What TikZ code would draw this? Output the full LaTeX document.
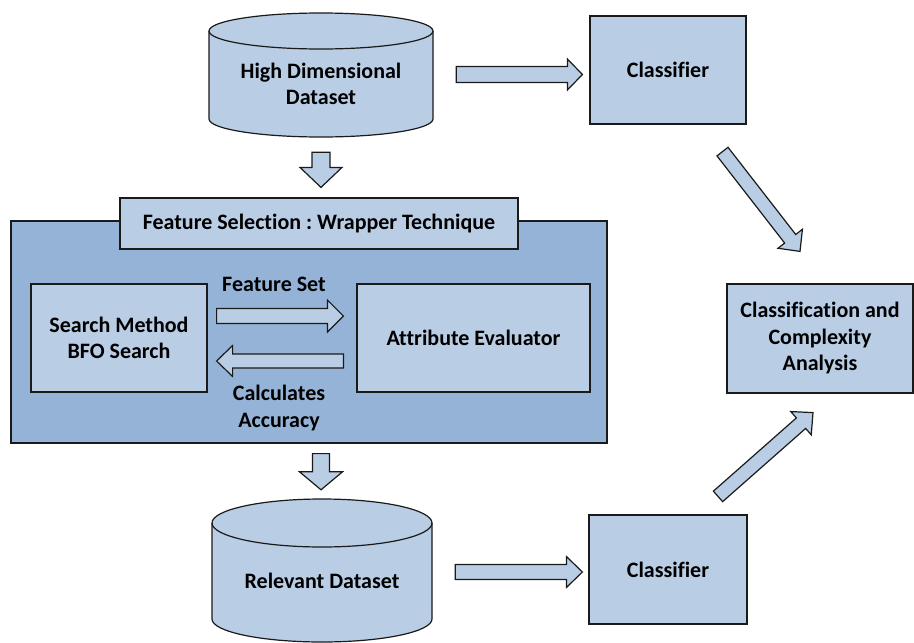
\documentclass[tikz,border=0pt]{standalone}
\usepackage{fontspec}
\setmainfont[Ligatures=NoCommon]{Carlito}
\usetikzlibrary{calc}
\definecolor{lightfill}{HTML}{B9CDE5}
\definecolor{darkfill}{HTML}{95B3D7}
\definecolor{edge}{HTML}{1A1A1A}
\tikzset{
  boxnode/.style={draw=edge, line width=1.2pt, fill=lightfill, inner sep=0pt, align=center,
    font=\fontsize{22}{26.5}\selectfont\bfseries},
  txt/.style={inner sep=0pt, align=center, font=\fontsize{22}{26.5}\selectfont\bfseries},
  barrowstyle/.style={draw=edge, line width=1.2pt, fill=lightfill, line join=miter},
}
% #1 start, #2 end, #3 shaft half width, #4 head half width, #5 head length
\newcommand\blockarrow[5]{%
  \coordinate (bH) at ($(#2)!#5!(#1)$);
  \draw[barrowstyle] ($(#1)!#3!90:(#2)$) -- ($(bH)!#3!90:(#2)$) -- ($(bH)!#4!90:(#2)$)
    -- (#2) -- ($(bH)!#4!-90:(#2)$) -- ($(bH)!#3!-90:(#2)$) -- ($(#1)!#3!-90:(#2)$) -- cycle;
}
\frenchspacing
\begin{document}
\begin{tikzpicture}[x=1pt,y=-1pt]
\useasboundingbox (0,0) rectangle (914,643);

% top cylinder
\fill[lightfill] (209,31) -- (209,119) arc (180:360:112pt and 18pt) -- (433,31) arc (0:180:112pt and 18pt) -- cycle;
\draw[edge, line width=1.2pt] (209,31) -- (209,119) arc (180:360:112pt and 18pt) -- (433,31) arc (0:180:112pt and 18pt) -- cycle;
\draw[edge, line width=1.2pt] (209,31) arc (180:360:112pt and 18pt);
\node[txt, minimum width=224pt, minimum height=106pt] (hd) at (321,84) {};
\node[txt] (hdt) at (321,84) {High Dimensional\\Dataset};

% bottom cylinder
\fill[lightfill] (212,523) -- (212,619) arc (180:360:110pt and 23pt) -- (432,523) arc (0:180:110pt and 24pt) -- cycle;
\draw[edge, line width=1.2pt] (212,523) -- (212,619) arc (180:360:110pt and 23pt) -- (432,523) arc (0:180:110pt and 24pt) -- cycle;
\draw[edge, line width=1.2pt] (212,523) arc (180:360:110pt and 24pt);
\node[txt, minimum width=220pt, minimum height=110pt] (rd) at (322,576) {};
\node[txt] (rdt) at (322,581) {Relevant Dataset};

% classifiers
\node[boxnode, minimum width=156pt, minimum height=108pt] (c1) at (668,70) {Classifier};
\node[boxnode, minimum width=158pt, minimum height=109pt] (c2) at (668,569.5) {Classifier};
\node[boxnode, minimum width=186pt, minimum height=109pt] (ca) at (820,338.5) {Classification and\\Complexity\\Analysis};

% feature selection group
\node[draw=edge, line width=1.2pt, fill=darkfill, minimum width=596pt, minimum height=222pt, inner sep=0pt] (fs) at (309,332) {};
\node[boxnode, minimum width=398pt, minimum height=51pt] (fsl) at (319,223.5) {Feature Selection : Wrapper Technique};
\node[boxnode, minimum width=176pt, minimum height=108pt] (sm) at (119,338) {Search Method\\BFO Search};
\node[boxnode, minimum width=233pt, minimum height=108pt] (ae) at (473.5,338) {Attribute Evaluator};
\node[txt] (fset) at (274,284) {Feature Set};
\node[txt] (calc) at (279,408) {Calculates\\Accuracy};

% arrow end points
\coordinate (a1s) at ($(hd.east)+(23,-9.5)$);
\coordinate (a1e) at ($(c1.west)+(-7,4.5)$);
\coordinate (d1s) at ($(hd.south)+(0,15)$);
\coordinate (d1e) at ($(fsl.north)+(2,-10)$);
\coordinate (irs) at ($(sm.east)+(9,-22)$);
\coordinate (ire) at ($(ae.west)+(-13,-22)$);
\coordinate (ils) at ($(ae.west)+(-13,23)$);
\coordinate (ile) at ($(sm.east)+(9,23)$);
\coordinate (d2s) at ($(fs.south)+(12,10)$);
\coordinate (d2e) at ($(rd.north)+(-1,-31)$);
\coordinate (a2s) at ($(rd.east)+(23,-4)$);
\coordinate (a2e) at ($(c2.west)+(-6,2.5)$);
\coordinate (g1s) at ($(c1.south)+(54.5,27)$);
\coordinate (g1e) at ($(ca.north)+(-20,-32)$);
\coordinate (g2s) at ($(c2.north)+(50,-18)$);
\coordinate (g2e) at ($(ca.south)+(-7,19)$);

\blockarrow{a1s}{a1e}{8pt}{15.5pt}{15pt}
\blockarrow{d1s}{d1e}{9pt}{21pt}{20pt}
\blockarrow{irs}{ire}{7.5pt}{16pt}{16pt}
\blockarrow{ils}{ile}{7pt}{15.5pt}{16pt}
\blockarrow{d2s}{d2e}{8.5pt}{21.5pt}{18pt}
\blockarrow{a2s}{a2e}{7.5pt}{15.5pt}{16pt}
\blockarrow{g1s}{g1e}{7pt}{15.5pt}{16pt}
\blockarrow{g2s}{g2e}{7pt}{15.5pt}{16pt}
\end{tikzpicture}
\end{document}
